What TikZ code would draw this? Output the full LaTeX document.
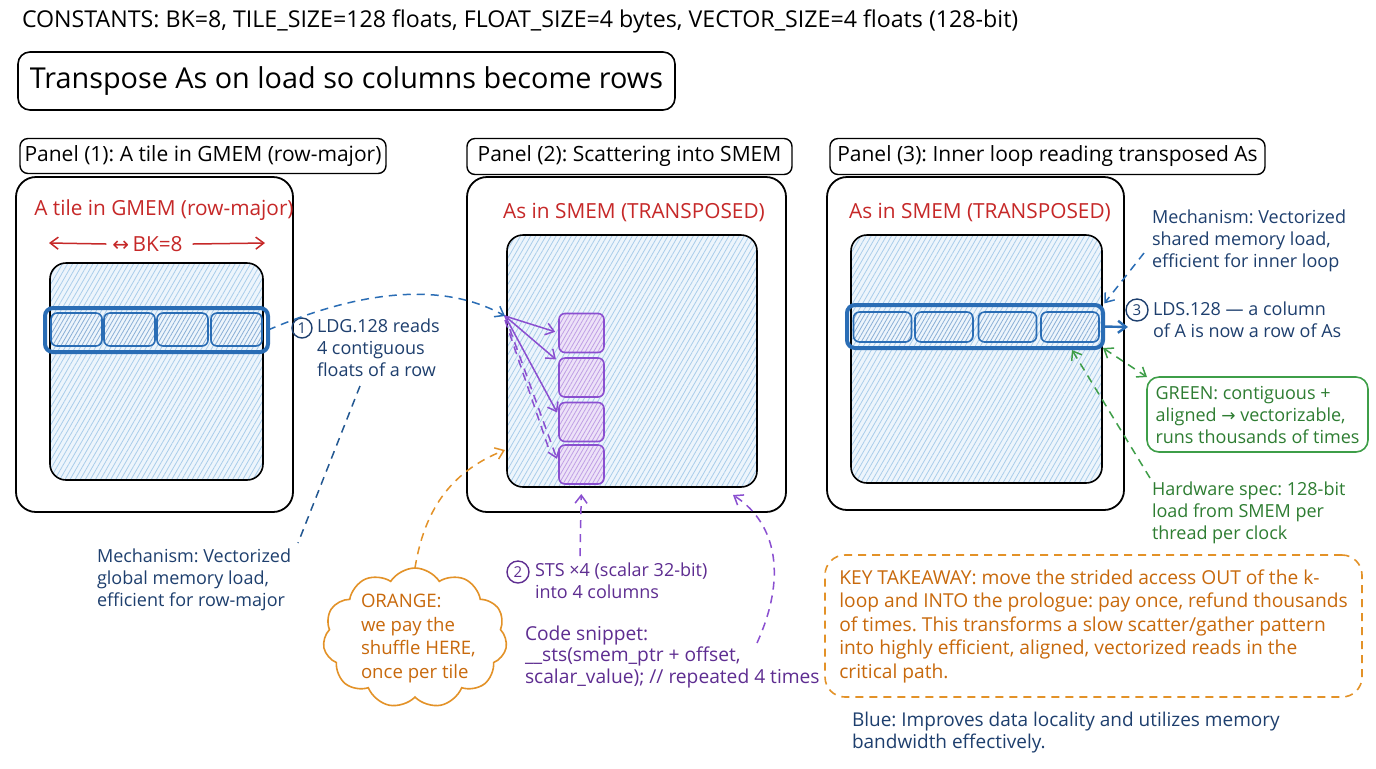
\documentclass[tikz,border=0pt]{standalone}
\usepackage{fontspec}
\setmainfont{Open Sans}
\newfontfamily\symf{DejaVu Sans}
\usetikzlibrary{arrows.meta,patterns.meta,shapes.symbols,calc}
\definecolor{cred}{HTML}{C62828}
\definecolor{cdblue}{HTML}{1E3F6E}
\definecolor{cmblue}{HTML}{2A6DB5}
\definecolor{chatch}{HTML}{A9CDEA}
\definecolor{chbg}{HTML}{EDF5FC}
\definecolor{cpurp}{HTML}{8A4FD0}
\definecolor{cpurpt}{HTML}{5E2D91}
\definecolor{cpfill}{HTML}{EDE2F8}
\definecolor{corange}{HTML}{E39228}
\definecolor{corangt}{HTML}{C8690C}
\definecolor{cgreen}{HTML}{3E9E48}
\definecolor{cgreent}{HTML}{2E7D32}
\newcommand{\myfs}[2]{\fontsize{#1}{#2}\selectfont}
\frenchspacing
\begin{document}
\begin{tikzpicture}[x=0.5pt,y=-0.5pt,
  every node/.style={inner sep=0pt, outer sep=0pt},
  labelbox/.style={draw=black, line width=0.7pt, rounded corners=4pt, font=\myfs{10.5}{12}},
  framebox/.style={draw=black, line width=0.9pt, rounded corners=10pt},
  tilebox/.style={draw=black, line width=0.8pt, rounded corners=8pt, preaction={fill=chbg},
     pattern={Lines[angle=60,distance=2.2pt,line width=0.4pt]}, pattern color=chatch},
  rowbox/.style={draw=cmblue, line width=2pt, rounded corners=4pt},
  cellbox/.style={draw=cmblue, line width=0.8pt, rounded corners=3pt, preaction={fill=chbg},
     pattern={Lines[angle=60,distance=1.8pt,line width=0.4pt]}, pattern color=cmblue!55},
  pcell/.style={draw=cpurp, line width=0.8pt, rounded corners=3pt, preaction={fill=cpfill},
     pattern={Lines[angle=60,distance=1.8pt,line width=0.4pt]}, pattern color=cpurp!55},
  redtitle/.style={text=cred, font=\myfs{10.4}{12}, anchor=base},
  note/.style={anchor=base west, align=left, font=\myfs{9}{11}},
  numc/.style={circle, draw, line width=0.7pt, minimum size=10pt, font=\myfs{7.5}{8}},
  conn/.style={line width=0.75pt},
  tip/.style={-{Straight Barb[length=4pt,width=6pt]}},
  dsh/.style={dash pattern=on 4pt off 3pt},
]
\useasboundingbox[fill=white] (0,0) rectangle (1376,768);

% constants and title
\node[anchor=base west, font=\myfs{11.6}{13}] (consts) at (22,27)
  {CONSTANTS: BK=8, TILE\_SIZE=128 floats, FLOAT\_SIZE=4 bytes, VECTOR\_SIZE=4 floats (128-bit)};
\node[draw=black, line width=0.8pt, rounded corners=6pt, minimum width=328.5pt, minimum height=29pt,
  font=\myfs{14.4}{16}] (title) at (346.5,81) {Transpose As on load so columns become rows};

% panel labels
\node[labelbox, minimum width=183pt, minimum height=17.5pt] (lab1) at (203,156) {Panel (1): A tile in GMEM (row-major)};
\node[labelbox, minimum width=162.5pt, minimum height=18pt] (lab2) at (629.5,156.5) {Panel (2): Scattering into SMEM};
\node[labelbox, minimum width=217.5pt, minimum height=18pt] (lab3) at (1047.5,156.5) {Panel (3): Inner loop reading transposed As};

% frames
\node[framebox, minimum width=138.5pt, minimum height=167.5pt] (frame1) at (154.5,344.5) {};
\node[framebox, minimum width=159.5pt, minimum height=167.5pt] (frame2) at (626.5,344.5) {};
\node[framebox, minimum width=148.5pt, minimum height=166.5pt] (frame3) at (975.5,343.5) {};

% red titles
\node[redtitle] (rt1) at (164,215) {A tile in GMEM (row-major)};
\node[redtitle] (rt2) at (634,218) {As in SMEM (TRANSPOSED)};
\node[redtitle] (rt3) at (980,218) {As in SMEM (TRANSPOSED)};

% BK row
\node[text=cred, font=\myfs{10.4}{12}] (bk) at (147.5,244) {{\symf\myfs{10}{12}↔}\,BK=8};
\coordinate (bkL) at (49,243);
\coordinate (bkR) at (265,243);
\draw[conn, draw=cred, tip] ([xshift=-3pt]bk.west) -- (bkL);
\draw[conn, draw=cred, tip] ([xshift=5pt]bk.east) -- (bkR);

% tiles
\node[tilebox, minimum width=106.5pt, minimum height=108.5pt] (tile1) at (156.5,371.5) {};
\node[tilebox, minimum width=125pt, minimum height=126pt] (tile2) at (632,361) {};
\node[tilebox, minimum width=125.5pt, minimum height=124pt] (tile3) at (976.5,359) {};

% panel 1 row
\foreach \n/\cx in {1/76.5,2/129.5,3/182.5,4/236.5}
  \node[cellbox, minimum width=25.5pt, minimum height=16.5pt] (c1\n) at (\cx,329.5) {};
\node[rowbox, minimum width=111.5pt, minimum height=22pt] (row1) at (156.5,330) {};

% panel 3 row
\foreach \n/\cx in {1/882.5,2/944,3/1007.5,4/1070}
  \node[cellbox, minimum width=29pt, minimum height=15pt] (c3\n) at (\cx,327) {};
\node[rowbox, minimum width=128pt, minimum height=21.5pt] (row3) at (975,326.5) {};

% panel 2 purple cells
\foreach \n/\cy in {1/333,2/377.5,3/422,4/464.5}
  \node[pcell, minimum width=22.5pt, minimum height=19.5pt] (c2\n) at (581.5,\cy) {};

% annotation 1 (multi-line nodes: base = last line)
\node[numc, draw=cdblue, text=cdblue] (n1) at (302,328) {1};
\node[note, text=cdblue] (ldg) at (317,376) {LDG.128 reads\\4 contiguous\\floats of a row};
\node[note, text=cdblue] (mech1) at (97,606) {Mechanism: Vectorized\\global memory load,\\efficient for row-major};

% annotation 2
\node[numc, draw=cpurpt, text=cpurpt, minimum size=11pt] (n2) at (518,572) {2};
\node[note, text=cpurpt] (sts) at (535,598) {STS ×4 (scalar 32-bit)\\into 4 columns};
\node[note, text=cpurpt, font=\myfs{9.6}{10.75}] (code) at (525,683)
  {Code snippet:\\\_\_sts(smem\_ptr + offset,\\scalar\_value); // repeated 4 times};

% cloud
\node[cloud, cloud puffs=11, cloud puff arc=115, aspect=1.3, draw=corange, line width=0.8pt,
  minimum width=92pt, minimum height=70pt] (cloud) at (415,638) {};
\node[note, text=corangt, font=\myfs{9.3}{11.75}] (orng) at (361,678) {ORANGE:\\we pay the\\shuffle HERE,\\once per tile};

% annotation 3
\node[numc, draw=cdblue, text=cdblue, minimum size=11pt] (n3) at (1137,310) {3};
\node[note, text=cdblue] (lds) at (1153,337) {LDS.128 — a column\\of A is now a row of As};
\node[note, text=cdblue] (mech3) at (1152,267) {Mechanism: Vectorized\\shared memory load,\\efficient for inner loop};
\node[draw=cgreen, line width=0.8pt, rounded corners=6pt, minimum width=110.5pt, minimum height=37.5pt,
  align=left, text=cgreent, font=\myfs{9}{11}] (gbox) at (1257.5,414.5)
  {GREEN: contiguous +\\aligned {\symf\myfs{8.5}{11}→} vectorizable,\\runs thousands of times};
\node[note, text=cgreent] (hw) at (1152,539) {Hardware spec: 128-bit\\load from SMEM per\\thread per clock};

% key takeaway
\node[draw=corange, line width=0.8pt, dsh, rounded corners=10pt, minimum width=268.5pt, minimum height=71pt,
  align=left, text=corangt, font=\myfs{9.6}{11.75}] (key) at (1093.5,626)
  {KEY TAKEAWAY: move the strided access OUT of the k-\\loop and INTO the prologue: pay once, refund thousands\\of times. This transforms a slow scatter/gather pattern\\into highly efficient, aligned, vectorized reads in the\\critical path.};
\node[note, text=cdblue, font=\myfs{9.5}{10.75}] (blue) at (852,748) {Blue: Improves data locality and utilizes memory\\bandwidth effectively.};

% connectors
\coordinate (t2in) at (505,316);
\draw[conn, draw=cmblue, dsh, tip] (row1.east) .. controls (380,282) and (455,288) .. (t2in);
\coordinate (ldgb) at (360,386);
\coordinate (m1t) at (298,543);
\draw[conn, draw=cmblue!80!black, dsh] (ldgb) -- (m1t);

\draw[conn, draw=cpurp, tip, shorten >=2pt] (t2in) -- (c21.west);
\draw[conn, draw=cpurp, tip, shorten >=2pt] (t2in) -- ([yshift=-2pt]c22.north west);
\draw[conn, draw=cpurp, tip, shorten >=2pt] (t2in) -- ([yshift=3pt]c23.west);
\draw[conn, draw=cpurp, dsh, tip, shorten >=3pt] (t2in) -- (c24.west);
\draw[conn, draw=cpurp, dsh] ([yshift=-2pt]t2in) -- ([xshift=-5pt,yshift=-4pt]c23.south west);

\coordinate (t2or) at (505,450);
\draw[conn, draw=corange, dsh, tip] (cloud.north) .. controls (425,505) and (455,470) .. (t2or);

\coordinate (stsT) at (580,556);
\draw[conn, draw=cpurp, dsh, tip, shorten >=5pt] (stsT) -- (c24.south);
\coordinate (codeE) at (757,643);
\coordinate (t2br) at (733,495);
\draw[conn, draw=cpurp, dsh, tip] (codeE) .. controls (790,570) and (772,520) .. (t2br);

\coordinate (lds3) at (1128,327);
\draw[line width=1.2pt, draw=cmblue, tip] (row3.east) -- (lds3);
\coordinate (m3s) at (1144,253);
\draw[conn, draw=cmblue, dsh, tip, shorten >=1pt] (m3s) -- (row3.north east);
\draw[conn, draw=cgreen, dsh, {Straight Barb[length=4pt,width=6pt]}-{Straight Barb[length=4pt,width=6pt]}]
  (row3.south east) -- (gbox.north west);
\coordinate (hwS) at (1150,478);
\coordinate (r3b) at (1072,350);
\draw[conn, draw=cgreen, dsh, tip] (hwS) -- (r3b);
\end{tikzpicture}
\end{document}
